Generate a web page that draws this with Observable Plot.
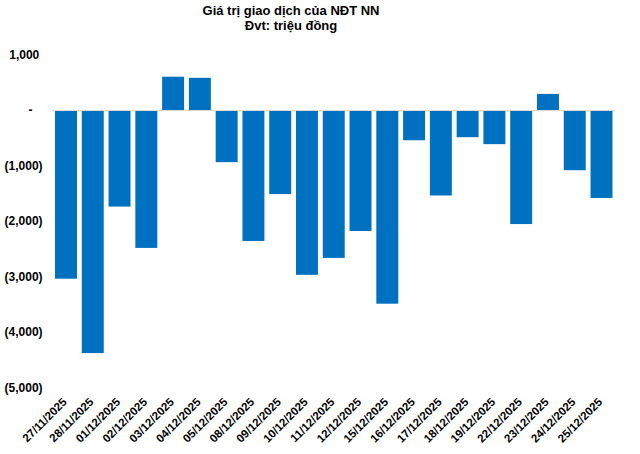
<!DOCTYPE html>
<html>
<head>
<meta charset="utf-8">
<script src="https://cdn.jsdelivr.net/npm/d3@7"></script>
<script src="https://cdn.jsdelivr.net/npm/@observablehq/plot@0.6"></script>
<style>
  body { margin: 0; background: #fff; font-family: "Liberation Sans", Arial, sans-serif; }
  #title { width: 640px; box-sizing: border-box; padding-right: 58px; padding-top: 4px; height: 32px;
           text-align: center; font-weight: bold; font-size: 13px; line-height: 14.5px; color: #000; }
</style>
</head>
<body>
<div id="title">Giá trị giao dịch của NĐT NN<br>Đvt: triệu đồng</div>
<div id="chart"></div>
<script>
const dates = ["27/11/2025", "28/11/2025", "01/12/2025", "02/12/2025", "03/12/2025", "04/12/2025", "05/12/2025",
  "08/12/2025", "09/12/2025", "10/12/2025", "11/12/2025", "12/12/2025", "15/12/2025", "16/12/2025",
  "17/12/2025", "18/12/2025", "19/12/2025", "22/12/2025", "23/12/2025", "24/12/2025", "25/12/2025"];
const values = [-3040, -4380, -1740, -2485, 600, 580, -940, -2360, -1515, -2970, -2665, -2180, -3490, -545,
  -1540, -490, -615, -2055, 290, -1085, -1585];
const yTicks = [1000, 0, -1000, -2000, -3000, -4000, -5000];

const data = dates.map((d, i) => ({date: d, value: values[i]}));

const fmt = v => {
  if (v === 0) return "-\u2007\u2008";
  const s = d3.format(",")(Math.abs(v));
  return v < 0 ? `(${s})` : s + "\u2008";
};

const chart = Plot.plot({
  width: 640,
  height: 422,
  marginTop: 22.5,
  marginBottom: 66.5,
  marginLeft: 52.6,
  marginRight: 25.1,
  style: {fontFamily: "'Liberation Sans', Arial, sans-serif", fontWeight: "bold", color: "#000", background: "#fff"},
  x: {domain: dates, paddingInner: 0.18, paddingOuter: 0.09, round: false, label: null},
  y: {domain: [-5000, 1000], label: null},
  marks: [
    Plot.axisY({ticks: yTicks, tickFormat: fmt, tickSize: 0, tickPadding: 10.5, fontSize: 12, label: null}),
    Plot.axisX({tickSize: 0, tickPadding: 6, tickRotate: -45, fontSize: 11.5, dx: -1.5, dy: 6, label: null}),
    Plot.barY(data, {x: "date", y: "value", fill: "#0070C0"}),
    Plot.ruleY([0], {stroke: "#D9D9D9", strokeWidth: 1})
  ]
});
document.getElementById("chart").appendChild(chart);
</script>
</body>
</html>
